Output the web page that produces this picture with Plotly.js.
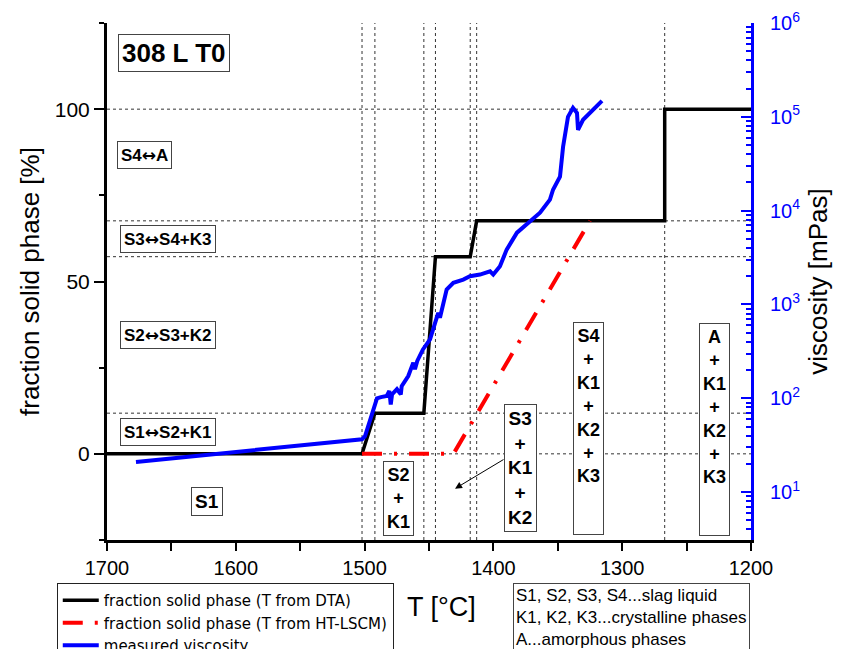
<!DOCTYPE html>
<html>
<head>
<meta charset="utf-8">
<script src="https://cdn.plot.ly/plotly-3.0.1.min.js"></script>
<style>html,body{margin:0;padding:0;background:#fff;}#chart{width:851px;height:649px;}</style>
</head>
<body>
<div id="chart"></div>
<script>
// ---- data ----
// fraction solid phase, T from DTA (step curve)
const dtaT = [1700, 1502, 1492, 1454, 1445, 1418, 1413, 1267, 1267, 1200];
const dtaF = [0, 0, 11.8, 11.8, 57.2, 57.2, 67.6, 67.6, 100, 100];
// fraction solid phase, T from HT-LSCM
const lscmT = [1502, 1431, 1325];
const lscmF = [0, 0, 67.6];
// measured viscosity [mPas]
const viscT = [1677.5, 1606.8, 1550.2, 1502.0, 1499.7, 1494.3, 1491.9, 1490.4, 1487.3, 1482.8,
  1480.8, 1479.7, 1478.7, 1474.9, 1471.9, 1471.2, 1466.1, 1462.2, 1460.9, 1459.1,
  1454.7, 1449.2, 1444.0, 1442.8, 1441.5, 1436.3, 1431.1, 1423.4, 1418.2, 1410.4,
  1402.6, 1400.1, 1394.9, 1389.7, 1381.7, 1371.6, 1363.8, 1356.1, 1353.7, 1348.3,
  1345.9, 1342.1, 1338.2, 1335.1, 1334.3, 1330.4, 1325.0, 1319.6, 1315.7];
const viscV = [21.0, 26.3, 31.6, 36.6, 39.4, 67.6, 90.6, 100, 103, 106,
  120, 86, 110, 125, 110, 135, 173, 240, 204, 250,
  332, 425, 723, 817, 723, 1445, 1702, 1845, 2000, 2084,
  2259, 2084, 2553, 3846, 5834, 7640, 9525, 13100, 16700, 23000,
  48000, 100000, 124700, 110000, 72800, 93000, 110000, 134000, 148000];
// transition temperatures and fraction levels (dotted guide lines)
const transT = [1502, 1492, 1454, 1445, 1418, 1413, 1267];
const levelF = [0, 11.8, 57.2, 67.6, 100];
// labels
const seriesNames = ['fraction solid phase (T from DTA)', 'fraction solid phase (T from HT-LSCM)', 'measured viscosity'];
const decadeExp = [1, 2, 3, 4, 5, 6];

const FONT = 'Liberation Sans, Arial, sans-serif';
const ARROW = '<span style="font-family:DejaVu Sans">↔</span>';

const traces = [
  {x: dtaT, y: dtaF, name: seriesNames[0], mode: 'lines', xaxis: 'x', yaxis: 'y',
   line: {color: 'black', width: 3.5}},
  {x: lscmT, y: lscmF, name: seriesNames[1], mode: 'lines', xaxis: 'x', yaxis: 'y',
   line: {color: '#ff0000', width: 4, dash: '20px,12px,3px,12px'}},
  {x: viscT, y: viscV, name: seriesNames[2], mode: 'lines', xaxis: 'x', yaxis: 'y2',
   line: {color: '#0000ff', width: 4}}
];

const shapes = [];
transT.forEach(t => shapes.push({type: 'line', xref: 'x', yref: 'paper', x0: t, x1: t, y0: 0, y1: 1,
  line: {color: '#333', width: 1, dash: 'dot'}, layer: 'below'}));
levelF.forEach(f => shapes.push({type: 'line', xref: 'paper', yref: 'y', x0: 0, x1: 1, y0: f, y1: f,
  line: {color: '#333', width: 1, dash: 'dot'}, layer: 'below'}));

const box = (text, x, y, size, extra) => Object.assign({
  text: text, x: x, y: y, xref: 'x', yref: 'y', showarrow: false,
  font: {family: FONT, size: size, color: 'black', weight: 'bold'},
  bgcolor: 'white', bordercolor: '#444', borderwidth: 1, borderpad: 3
}, extra || {});

const annotations = [
  box('<b>308 L T0</b>', 1647.6, 116.2, 26),
  box('<b>S4' + ARROW + 'A</b>', 1670.9, 86.6, 17),
  box('<b>S3' + ARROW + 'S4+K3</b>', 1652.3, 62.3, 17),
  box('<b>S2' + ARROW + 'S3+K2</b>', 1652.6, 34.4, 17),
  box('<b>S1' + ARROW + 'S2+K1</b>', 1652.3, 6.2, 17),
  box('<b>S1</b>', 1622, -13.7, 19),
  box('<b>S2<br>+<br>K1</b>', 1474, -13, 18),
  box('<b>S3<br>+<br>K1<br>+<br>K2</b>', 1379, -4.2, 19),
  box('<b>S4<br>+<br>K1<br>+<br>K2<br>+<br>K3</b>', 1325.8, 7.4, 18, {height: 205, valign: 'top'}),
  box('<b>A<br>+<br>K1<br>+<br>K2<br>+<br>K3</b>', 1228.3, 7.2, 18, {height: 205, valign: 'top'}),
  {x: 1429.8, y: -10.1, ax: 1391, ay: -1.4, xref: 'x', yref: 'y', axref: 'x', ayref: 'y',
   text: '', showarrow: true, arrowhead: 2, arrowsize: 1.4, arrowwidth: 1, arrowcolor: 'black'},
  {text: 'S1, S2, S3, S4...slag liquid<br>K1, K2, K3...crystalline phases<br>A...amorphous phases',
   xref: 'paper', yref: 'paper', x: 0.630, y: -0.083, xanchor: 'left', yanchor: 'top',
   align: 'left', showarrow: false, font: {family: FONT, size: 17, color: 'black'},
   bordercolor: '#444', borderwidth: 1, borderpad: 2, bgcolor: 'white'},
  {text: 'T [°C]', xref: 'paper', yref: 'paper', x: 0.52, y: -0.13, xanchor: 'center', yanchor: 'middle',
   showarrow: false, font: {family: FONT, size: 27, color: 'black'}}
];

const minorVals = [];
for (let e = 0; e < 6; e++) for (let d = 2; d <= 9; d++) minorVals.push(d * Math.pow(10, e));

const layout = {
  width: 851, height: 649,
  margin: {l: 107, r: 100, t: 23, b: 109, autoexpand: false},
  paper_bgcolor: 'white', plot_bgcolor: 'white',
  font: {family: FONT, size: 20, color: 'black'},
  showlegend: true,
  legend: {x: -0.078, y: -0.083, xanchor: 'left', yanchor: 'top', bgcolor: 'white',
    bordercolor: '#222', borderwidth: 1, font: {family: 'DejaVu Sans, Liberation Sans, sans-serif', size: 15, color: 'black'},
    tracegroupgap: 0, itemwidth: 36},
  xaxis: {range: [1700, 1200], tick0: 1200, dtick: 100, ticks: 'outside', ticklen: 8, tickwidth: 2,
    tickcolor: 'black', showline: true, linecolor: 'black', linewidth: 3, showgrid: false, zeroline: false,
    tickfont: {size: 20, color: 'black'},
    minor: {dtick: 50, ticks: 'outside', ticklen: 8, tickwidth: 2, tickcolor: 'black', showgrid: false}},
  xaxis2: {overlaying: 'x', anchor: 'y', side: 'top', range: [1700, 1200], tick0: 1200, dtick: 50,
    ticks: 'inside', ticklen: 8, tickwidth: 2, tickcolor: '#0000ff', showline: true, linecolor: '#0000ff',
    linewidth: 3, showticklabels: false, showgrid: false, zeroline: false},
  yaxis: {range: [-25, 125], tick0: 0, dtick: 50, ticks: 'outside', ticklen: 10, tickwidth: 2,
    tickcolor: 'black', showline: true, linecolor: 'black', linewidth: 3, showgrid: false, zeroline: false,
    tickfont: {size: 21, color: 'black'},
    minor: {dtick: 25, ticks: 'outside', ticklen: 5, tickwidth: 2, tickcolor: 'black', showgrid: false},
    title: {text: 'fraction solid phase [%]', font: {size: 26, color: 'black'}, standoff: 8}},
  yaxis2: {overlaying: 'y', side: 'right', type: 'log', range: [0.49, 6],
    tickmode: 'array', tickvals: decadeExp.map(e => Math.pow(10, e)),
    ticktext: decadeExp.map(e => '10<sup>' + e + '</sup>'),
    ticks: 'inside', ticklen: 10, tickwidth: 2, tickcolor: '#0000ff', showline: true, linecolor: '#0000ff',
    linewidth: 3, showgrid: false, zeroline: false, ticklabelstandoff: 12,
    tickfont: {size: 20, color: '#0000ff'},
    minor: {tickvals: minorVals, ticks: 'inside', ticklen: 5, tickwidth: 2, tickcolor: '#0000ff', showgrid: false},
    title: {text: 'viscosity [mPas]', font: {size: 26, color: 'black'}, standoff: 10}},
  shapes: shapes,
  annotations: annotations
};

Plotly.newPlot('chart', traces, layout, {displayModeBar: false, staticPlot: true});
</script>
</body>
</html>
